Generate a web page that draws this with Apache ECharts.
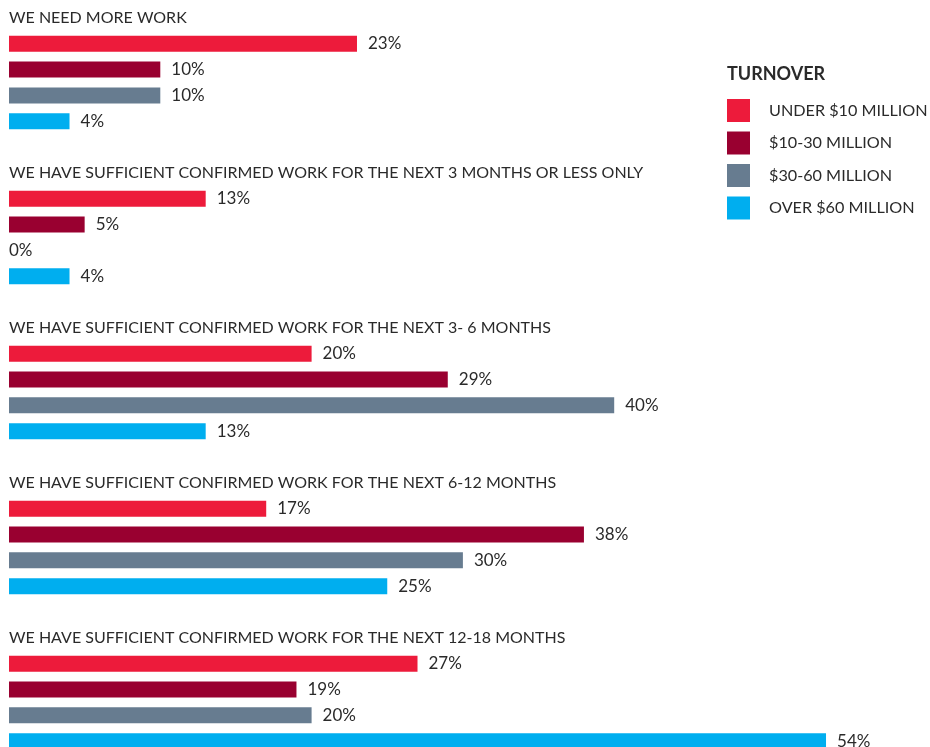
<!DOCTYPE html>
<html>
<head>
<meta charset="utf-8">
<style>
  html, body { margin: 0; padding: 0; background: #ffffff; }
  #chart { width: 930px; height: 747px; }
</style>
<script src="https://cdn.jsdelivr.net/npm/echarts@6/dist/echarts.min.js"></script>
</head>
<body>
<div id="chart"></div>
<script>
// Survey questions (one block of bars per question)
const questions = [
  'WE NEED MORE WORK',
  'WE HAVE SUFFICIENT CONFIRMED WORK FOR THE NEXT 3 MONTHS OR LESS ONLY',
  'WE HAVE SUFFICIENT CONFIRMED WORK FOR THE NEXT 3- 6 MONTHS',
  'WE HAVE SUFFICIENT CONFIRMED WORK FOR THE NEXT 6-12 MONTHS',
  'WE HAVE SUFFICIENT CONFIRMED WORK FOR THE NEXT 12-18 MONTHS'
];

// Turnover bands (legend entries)
const bands = ['UNDER $10 MILLION', '$10-30 MILLION', '$30-60 MILLION', 'OVER $60 MILLION'];

// Share of respondents (%) per question, one array per band
const under10m = [23, 13, 20, 17, 27];
const from10to30m = [10, 5, 29, 38, 19];
const from30to60m = [10, 0, 40, 30, 20];
const over60m = [4, 4, 13, 25, 54];

const bandValues = [under10m, from10to30m, from30to60m, over60m];
const bandColors = ['#ED1B3B', '#990030', '#677C90', '#00AEEF'];

// Each question occupies six rows: heading, four bars, spacer
const ROWS_PER_BLOCK = 6;
const rowKeys = [];
questions.forEach((q, qi) => {
  for (let r = 0; r < ROWS_PER_BLOCK; r++) rowKeys.push(qi + ':' + r);
});

const series = bands.map((band, bi) => {
  const data = rowKeys.map(() => null);
  bandValues[bi].forEach((v, qi) => {
    const item = { value: v };
    if (v === 0) item.label = { distance: 0 };
    data[qi * ROWS_PER_BLOCK + 1 + bi] = item;
  });
  return {
    name: band,
    type: 'bar',
    data: data,
    barWidth: 16,
    barGap: '-100%',
    itemStyle: { color: bandColors[bi] },
    label: {
      show: true,
      position: 'right',
      distance: 11,
      formatter: '{c}%',
      color: '#2a2a2a',
      fontFamily: 'Lato',
      fontSize: 17
    },
    silent: true,
    animation: false
  };
});

const chart = echarts.init(document.getElementById('chart'), null, { renderer: 'canvas' });
chart.setOption({
  backgroundColor: '#ffffff',
  animation: false,
  title: {
    text: 'TURNOVER',
    left: 722,
    top: 60,
    textStyle: { fontFamily: 'Lato', fontSize: 18, fontWeight: 'bold', color: '#2a2a2a' }
  },
  legend: {
    orient: 'vertical',
    left: 727,
    top: 99,
    padding: 0,
    itemWidth: 23,
    itemHeight: 23,
    itemGap: 9.5,
    icon: 'rect',
    data: bands,
    textStyle: {
      fontFamily: 'Lato',
      fontSize: 16.2,
      color: '#2a2a2a',
      padding: [0, 0, 0, 14]
    }
  },
  grid: {
    left: 9,
    top: 5,
    width: 60 * 15.13,
    height: rowKeys.length * 25.83,
    outerBoundsMode: 'none'
  },
  xAxis: {
    type: 'value',
    min: 0,
    max: 60,
    show: false
  },
  yAxis: {
    type: 'category',
    inverse: true,
    data: rowKeys,
    axisLine: { show: false },
    axisTick: { show: false },
    splitLine: { show: false },
    axisLabel: {
      inside: true,
      margin: 0,
      interval: 0,
      align: 'left',
      fontFamily: 'Lato',
      fontSize: 16,
      color: '#2a2a2a',
      formatter: (key) => {
        const [qi, r] = key.split(':').map(Number);
        return r === 0 ? questions[qi] : '';
      }
    }
  },
  series: series
});
</script>
</body>
</html>
